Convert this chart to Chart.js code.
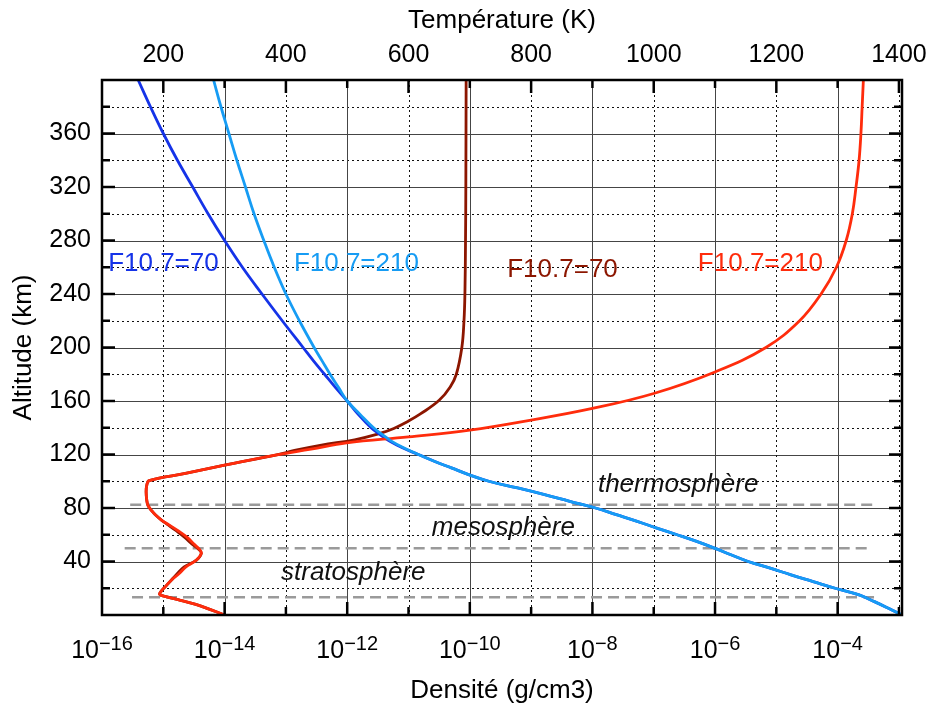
<!DOCTYPE html>
<html lang="fr">
<head>
<meta charset="UTF-8">
<title>Densité et température de l'atmosphère</title>
<script src="https://cdn.jsdelivr.net/npm/chart.js"></script>
<style>
  html, body { margin: 0; padding: 0; background: #fff; }
  #profil { display: block; }
</style>
</head>
<body>
<canvas id="profil" width="933" height="706"></canvas>
<script>
// altitudes (km) for the two density profiles
const densAlt = [0, 5, 10, 15, 20, 25, 30, 35, 40, 45, 50, 55, 60, 65, 70, 75, 80, 85, 90, 95,
  100, 105, 110, 115, 120, 125, 130, 135, 140, 150, 160, 170, 180, 190, 200,
  220, 240, 260, 280, 300, 320, 340, 360, 380, 400];
// log10 of density (g/cm3), F10.7 = 70
const logDens70 = [-2.95, -3.17, -3.40, -3.65, -4.04, -4.40, -4.76, -5.10, -5.46, -5.74, -6.01, -6.30, -6.62, -6.95, -7.27, -7.61, -7.95, -8.37, -8.78, -9.22,
  -9.69, -10.02, -10.30, -10.58, -10.84, -11.10, -11.31, -11.47, -11.61, -11.82, -12.0, -12.19, -12.37, -12.55, -12.72,
  -13.06, -13.39, -13.71, -14.0, -14.27, -14.52, -14.77, -15.0, -15.21, -15.41];
// log10 of density (g/cm3), F10.7 = 210
const logDens210 = [-2.95, -3.17, -3.40, -3.65, -4.04, -4.40, -4.76, -5.10, -5.46, -5.74, -6.01, -6.30, -6.62, -6.95, -7.27, -7.61, -7.95, -8.37, -8.78, -9.22,
  -9.69, -10.02, -10.30, -10.58, -10.84, -11.08, -11.28, -11.43, -11.57, -11.79, -12.0, -12.14, -12.28, -12.41, -12.54,
  -12.78, -13.0, -13.19, -13.36, -13.52, -13.66, -13.80, -13.93, -14.06, -14.18];

// temperature profile (K), F10.7 = 70
const tempAlt70 = [0, 4, 8, 11, 13.5, 15.5, 18, 21, 26, 31, 36, 41, 46, 49, 53, 58, 63, 68, 71, 75,
  78, 82, 86, 92, 97, 100.5, 106, 112, 119.5, 123, 127, 131, 135, 139.5, 145, 150.5, 160.5, 170.5, 180,
  200, 220, 240, 280, 320, 400];
const temp70 = [300, 277, 253, 228, 206, 194, 197, 203, 213, 223, 234, 254, 262, 258, 247, 235, 221, 206, 197, 187,
  181, 175, 173, 172, 173, 177, 238, 300, 383, 414, 458, 512, 548, 576, 600, 620, 650, 668, 678,
  687, 690.5, 692, 693, 693.5, 694];
// temperature profile (K), F10.7 = 210
const tempAlt210 = [0, 4, 8, 11, 13.5, 15.5, 18, 21, 26, 31, 36, 41, 46, 49, 53, 58, 63, 68, 71, 75,
  78, 82, 86, 92, 97, 100.5, 106, 112, 119.5, 124, 128.7, 133.2, 138.2, 145.7, 154.4, 165.6, 181.7, 200,
  220, 240, 260, 280, 300, 320, 340, 360, 380, 400];
const temp210 = [300, 277, 253, 228, 206, 194, 197, 203, 213, 226, 237, 254, 262, 259, 250, 239, 224, 207, 197, 187,
  181, 175, 173, 172, 173, 177, 238, 300, 383, 441, 499, 600, 700, 800, 900, 1000, 1100, 1183,
  1238, 1273, 1298, 1314, 1324, 1330, 1335, 1338, 1340, 1342];

// layer boundaries: altitude (km) and extent along the temperature axis (K)
const layerAlt = [82.5, 50, 13.3];
const layerFrom = [146, 137, 149];
const layerTo = [1360, 1351, 1360];

// axis ticks
const altRules = [20, 40, 60, 80, 100, 120, 140, 160, 180, 200, 220, 240, 260, 280, 300, 320, 340, 360, 380];
const decades = [-15, -14, -13, -12, -11, -10, -9, -8, -7, -6, -5, -4, -3];
const decadeLabels = [-16, -14, -12, -10, -8, -6, -4];
const tempMarks = [200, 300, 400, 500, 600, 700, 800, 900, 1000, 1100, 1200, 1300, 1400];

const FONT = '"Liberation Sans", Arial, sans-serif';
Chart.defaults.font.family = FONT;
Chart.defaults.color = '#000';

const DARK_BLUE = '#1533e8';
const LIGHT_BLUE = '#169cf4';
const DARK_RED = '#8c1600';
const RED = '#ff2c0c';

const densPoints = vals => vals.map((v, i) => ({ x: Math.pow(10, v), y: densAlt[i] }));
const tempPoints = (alts, vals) => vals.map((v, i) => ({ x: v, y: alts[i] }));

const curve = (data, color, axis, order) => ({
  data, xAxisID: axis, yAxisID: 'y', showLine: true, borderColor: color,
  borderWidth: 2.8, pointRadius: 0, tension: 0.4, order
});

const datasets = [
  curve(densPoints(logDens210), LIGHT_BLUE, 'x', 1),
  curve(tempPoints(tempAlt210, temp210), RED, 'xT', 2),
  curve(densPoints(logDens70), DARK_BLUE, 'x', 3),
  curve(tempPoints(tempAlt70, temp70), DARK_RED, 'xT', 4)
];
layerAlt.forEach((h, i) => {
  datasets.push({
    data: [{ x: layerFrom[i], y: h }, { x: layerTo[i], y: h }],
    xAxisID: 'xT', yAxisID: 'y', showLine: true, borderColor: '#9a9a9a',
    borderWidth: 2.5, borderDash: [11, 6], pointRadius: 0, order: 10
  });
});

// text placed on the plot, in temperature / altitude coordinates
const notes = [
  { text: 'F10.7=70', t: 110, h: 257, color: DARK_BLUE },
  { text: 'F10.7=210', t: 413, h: 257, color: LIGHT_BLUE },
  { text: 'F10.7=70', t: 761, h: 253, color: DARK_RED },
  { text: 'F10.7=210', t: 1072, h: 257, color: RED },
  { text: 'thermosphère', t: 909, h: 92, color: '#111', italic: true },
  { text: 'mesosphère', t: 638, h: 60, color: '#111', italic: true },
  { text: 'stratosphère', t: 392, h: 26, color: '#111', italic: true }
];

function seg(ctx, x0, y0, x1, y1) {
  ctx.beginPath();
  ctx.moveTo(x0, y0);
  ctx.lineTo(x1, y1);
  ctx.stroke();
}

// keep the plot box fixed: no extra room for overhanging tick labels
function fixBox(size) {
  return s => {
    if (s.isHorizontal()) s.height = size; else s.width = size;
    s.paddingLeft = s.paddingRight = s.paddingTop = s.paddingBottom = 0;
  };
}

const gridLines = {
  id: 'gridLines',
  beforeDatasetsDraw(chart) {
    const { ctx, chartArea: a, scales } = chart;
    ctx.save();
    ctx.lineWidth = 1;
    altRules.forEach(h => {
      const y = Math.round(scales.y.getPixelForValue(h)) + 0.5;
      const major = h % 40 === 0;
      ctx.strokeStyle = major ? '#454545' : '#111';
      ctx.setLineDash(major ? [] : [2, 3]);
      seg(ctx, a.left, y, a.right, y);
    });
    decades.forEach(e => {
      const x = Math.round(scales.x.getPixelForValue(Math.pow(10, e))) + 0.5;
      const major = e % 2 === 0;
      ctx.strokeStyle = major ? '#454545' : '#111';
      ctx.setLineDash(major ? [] : [2, 3]);
      seg(ctx, x, a.top, x, a.bottom);
    });
    ctx.restore();
  }
};

const frameAndText = {
  id: 'frameAndText',
  afterDatasetsDraw(chart) {
    const { ctx, chartArea: a, scales } = chart;
    ctx.save();
    ctx.strokeStyle = '#000';
    ctx.lineWidth = 2.5;
    ctx.setLineDash([]);
    // tick marks, pointing inward
    decades.forEach(e => {
      const x = scales.x.getPixelForValue(Math.pow(10, e));
      seg(ctx, x, a.bottom, x, a.bottom - (e % 2 === 0 ? 13 : 8));
    });
    tempMarks.forEach(t => {
      const x = scales.xT.getPixelForValue(t);
      seg(ctx, x, a.top, x, a.top + (t % 200 === 0 ? 13 : 8));
    });
    altRules.forEach(h => {
      const y = scales.y.getPixelForValue(h);
      const len = h % 40 === 0 ? 13 : 8;
      seg(ctx, a.left, y, a.left + len, y);
      seg(ctx, a.right, y, a.right - len, y);
    });
    ctx.strokeRect(a.left, a.top, a.right - a.left, a.bottom - a.top);

    // density labels 10^n
    ctx.fillStyle = '#000';
    ctx.textBaseline = 'alphabetic';
    ctx.textAlign = 'left';
    decadeLabels.forEach(e => {
      const x = scales.x.getPixelForValue(Math.pow(10, e));
      const sup = '\u2212' + Math.abs(e);
      ctx.font = '25px ' + FONT;
      const wb = ctx.measureText('10').width;
      ctx.font = '20px ' + FONT;
      const ws = ctx.measureText(sup).width;
      const left = x - (wb + ws) / 2;
      ctx.font = '25px ' + FONT;
      ctx.fillText('10', left, a.bottom + 43);
      ctx.font = '20px ' + FONT;
      ctx.fillText(sup, left + wb, a.bottom + 35);
    });

    // curve names and layer names
    notes.forEach(n => {
      ctx.font = (n.italic ? 'italic ' : '') + '26px ' + FONT;
      ctx.fillStyle = n.color;
      ctx.fillText(n.text, scales.xT.getPixelForValue(n.t), scales.y.getPixelForValue(n.h));
    });
    ctx.restore();
  }
};

new Chart(document.getElementById('profil'), {
  type: 'scatter',
  data: { datasets },
  options: {
    responsive: false,
    animation: false,
    layout: { padding: { left: 0, right: 31, top: 0, bottom: 0 } },
    plugins: { legend: { display: false }, tooltip: { enabled: false } },
    scales: {
      x: {
        type: 'logarithmic',
        position: 'bottom',
        min: 1e-16,
        max: Math.pow(10, -2.95),
        grid: { display: false, drawTicks: false },
        border: { display: false },
        ticks: { display: false },
        title: { display: true, text: 'Densité (g/cm3)', font: { size: 26 }, padding: { top: 0, bottom: 0 } },
        afterFit: fixBox(91)
      },
      xT: {
        type: 'linear',
        position: 'top',
        min: 100,
        max: 1405,
        grid: { display: false, drawTicks: false },
        border: { display: false },
        ticks: {
          stepSize: 200, includeBounds: false, autoSkip: false, maxRotation: 0,
          padding: 10, font: { size: 25 }, callback: v => String(v)
        },
        title: { display: true, text: 'Température (K)', font: { size: 26 }, padding: { top: 5, bottom: 0 } },
        afterFit: fixBox(80)
      },
      y: {
        type: 'linear',
        position: 'left',
        min: 0,
        max: 400,
        grid: { display: false, drawTicks: false },
        border: { display: false },
        ticks: {
          stepSize: 40, autoSkip: false, padding: 11, font: { size: 25 },
          callback: v => (v > 0 && v < 400 ? String(v) : '')
        },
        title: { display: true, text: 'Altitude (km)', font: { size: 26 }, padding: { top: 8, bottom: 0 } },
        afterFit: fixBox(102)
      }
    }
  },
  plugins: [gridLines, frameAndText]
});
</script>
</body>
</html>
